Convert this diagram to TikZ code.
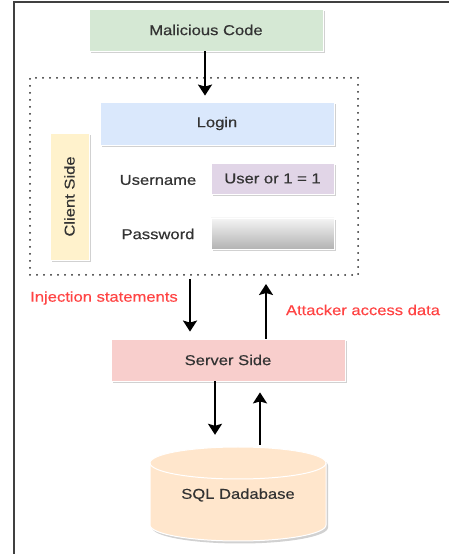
\documentclass[tikz,border=0pt]{standalone}
\usepackage{fontspec}
\setmainfont{Liberation Sans}[FakeStretch=1.16, FakeBold=0.4]
\usetikzlibrary{arrows.meta,shadows}
\definecolor{txt}{HTML}{333333}
\definecolor{redtxt}{HTML}{FF4444}
\definecolor{gfill}{HTML}{D5E8D4}
\definecolor{bfill}{HTML}{DAE8FC}
\definecolor{yfill}{HTML}{FFF2CC}
\definecolor{pfill}{HTML}{E1D5E7}
\definecolor{rfill}{HTML}{F8CECC}
\definecolor{ofill}{HTML}{FFE6CC}
\tikzset{
  x=1pt, y=1pt,
  every node/.style={font=\fontsize{14.3}{16}\selectfont, text=txt},
  softshadow/.style={drop shadow={shadow xshift=2pt, shadow yshift=-2.5pt, fill=black, opacity=0.18}},
  panel/.style={rectangle, draw=white, line width=0.8pt, softshadow, inner sep=0pt},
  arr/.style={line width=2pt, -{Stealth[width=14pt,length=11pt,inset=2pt]}},
  redlabel/.style={text=redtxt},
  grouping/.style={rectangle, draw=black!85, line width=2pt, line cap=round,
    dash pattern=on 0pt off 7pt, inner sep=0pt},
}
\begin{document}
\begin{tikzpicture}
\useasboundingbox (0,0) rectangle (448,554);
% outer frame (top and left edges)
\draw[line width=1.5pt, black!75] (14,-5) -- (14,552) -- (453,552);

% client-side group
\node[grouping, minimum width=328, minimum height=197] (grp) at (194,377.5) {};

\node[panel, fill=gfill, minimum width=234, minimum height=42] (mal) at (206,524) {Malicious Code};
\node[panel, fill=bfill, minimum width=234, minimum height=43] (login) at (217,430.5) {Login};
\node[panel, fill=yfill, minimum width=39, minimum height=127] (client) at (69.5,357.5) {};
\node[rotate=90] (clientlbl) at (client.center) {Client Side};
\node (uname) at (158,374) {Username};
\node[panel, fill=pfill, minimum width=123, minimum height=31] (ubox) at (272.5,375.5) {User or 1 = 1};
\node (pword) at (158,320) {Password};
\node[panel, top color=black!4, bottom color=black!30, minimum width=123, minimum height=31] (pbox) at (272.5,320.5) {};

\node[panel, fill=rfill, minimum width=234, minimum height=42] (srv) at (228,194) {Server Side};

\node[redlabel] (inj) at (104,256) {Injection statements};
\node[redlabel] (att) at (363,244) {Attacker access data};

% database cylinder
\draw[fill=ofill, draw=white, line width=1pt, softshadow]
  (150,91) -- (150,29) arc (180:360:88 and 16) -- (326,91) arc (0:180:88 and 16) -- cycle;
\draw[white, line width=1pt] (150,91) arc (180:360:88 and 16);
\node[minimum width=176, minimum height=94, inner sep=0pt] (db) at (238,60) {};
\node (dblbl) at (238,59) {SQL Dadabase};

% connectors
\draw[arr, shorten >=6pt] (mal.south -| 205,0) -- (login.north -| 205,0);
\draw[arr, shorten <=3pt, shorten >=7pt] (grp.south -| 190,0) -- (srv.north -| 190,0);
\draw[arr, shorten >=8pt] (srv.north -| 266,0) -- (grp.south -| 266,0);
\draw[arr, shorten >=12pt] (srv.south -| 215,0) -- (db.north -| 215,0);
\draw[arr, shorten <=2pt, shorten >=11pt] (db.north -| 260,0) -- (srv.south -| 260,0);
\end{tikzpicture}
\end{document}
